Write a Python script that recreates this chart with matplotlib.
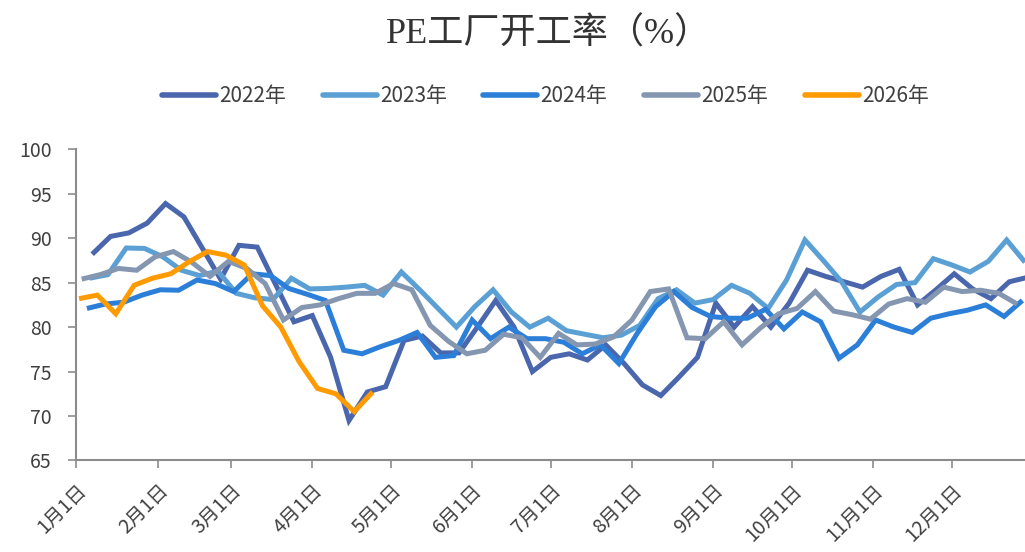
import numpy as np
import pandas as pd
import matplotlib
matplotlib.use("Agg")
import matplotlib.pyplot as plt

plt.rcParams['font.family'] = ['Noto Sans CJK SC', 'DejaVu Sans']

# PE工厂开工率, 周度数据(%)
v2022 = [88.2, 90.2, 90.6, 91.7, 93.9, 92.4, 88.9, 85.4, 89.2, 89.0,
         84.8, 80.6, 81.3, 76.6, 69.5, 72.7, 73.3, 78.5, 79.0, 77.1,
         77.1, 80.0, 83.0, 80.0, 75.0, 76.6, 77.0, 76.3, 78.0, 75.9,
         73.5, 72.3, 74.4, 76.6, 82.7, 80.0, 82.3, 80.0, 82.7, 86.4,
         85.7, 85.1, 84.5, 85.7, 86.5, 82.5, 84.2, 86.0, 84.3, 83.2,
         85.1, 85.6]
v2023 = [85.5, 85.9, 88.9, 88.85, 87.9, 86.4, 85.8, 86.3, 83.8, 83.3,
         83.1, 85.5, 84.3, 84.35, 84.5, 84.7, 83.6, 86.2, 84.2, 82.1,
         80.0, 82.3, 84.2, 81.7, 80.0, 81.0, 79.6, 79.2, 78.8, 79.1,
         80.2, 83.2, 84.2, 82.7, 83.1, 84.7, 83.8, 82.1, 85.3, 89.8,
         87.5, 85.1, 81.7, 83.4, 84.8, 85.0, 87.7, 87.0, 86.2, 87.4,
         89.8, 87.3]
v2024 = [82.1, 82.6, 82.8, 83.6, 84.2, 84.15, 85.3, 84.9, 84.0, 86.0,
         85.8, 84.35, 83.7, 83.0, 77.4, 77.0, 77.8, 78.5, 79.4, 76.6,
         76.8, 80.8, 78.7, 80.0, 78.7, 78.7, 78.3, 77.0, 78.0, 75.9,
         79.3, 82.3, 84.0, 82.2, 81.2, 81.0, 81.0, 82.0, 79.8, 81.7,
         80.6, 76.5, 78.0, 80.8, 80.0, 79.4, 81.0, 81.5, 81.9, 82.5,
         81.2, 83.0]
v2025 = [85.4, 85.9, 86.6, 86.4, 87.9, 88.5, 87.3, 85.7, 87.4, 86.6,
         84.9, 80.8, 82.2, 82.5, 83.2, 83.8, 83.8, 84.9, 84.2, 80.2,
         78.4, 77.0, 77.4, 79.2, 78.8, 76.6, 79.3, 78.0, 78.1, 78.9,
         80.8, 84.0, 84.3, 78.8, 78.7, 80.6, 78.0, 79.9, 81.5, 82.1,
         84.0, 81.8, 81.4, 80.9, 82.6, 83.2, 82.8, 84.5, 84.0, 84.15,
         83.8, 82.6]
v2026 = [83.2, 83.6, 81.5, 84.7, 85.5, 86.0, 87.35, 88.5, 88.1, 87.0,
         82.4, 80.0, 76.1, 73.1, 72.5, 70.5, 72.7]

series = [
    ("2022年", "2022-01-07", v2022, "#4a66ac"),
    ("2023年", "2023-01-06", v2023, "#5ba0d5"),
    ("2024年", "2024-01-05", v2024, "#2b7fd8"),
    ("2025年", "2025-01-03", v2025, "#8496b0"),
    ("2026年", "2026-01-02", v2026, "#ff9a00"),
]

month_days = [0, 31, 59, 90, 120, 151, 181, 212, 243, 273, 304, 334]
month_labels = [f"{m}月1日" for m in range(1, 13)]

fig = plt.figure(figsize=(10.25, 5.52), dpi=100)
ax = fig.add_axes([0.0746, 0.1658, 0.9254, 0.5637])

for name, start, vals, col in series:
    d = pd.date_range(start, periods=len(vals), freq="7D")
    x = d.dayofyear.values - 1
    ax.plot(x, vals, color=col, lw=3.6, label=name, solid_joinstyle="miter",
            solid_capstyle="butt")

ax.set_xlim(0, 362)
ax.set_ylim(65, 100)
ax.set_yticks(np.arange(65, 101, 5))
ax.set_xticks(month_days)
ax.set_xticklabels(month_labels, rotation=45, ha="right", va="top",
                   rotation_mode="anchor")

for s in ["top", "right"]:
    ax.spines[s].set_visible(False)
for s in ["left", "bottom"]:
    ax.spines[s].set_color("#8c8c8c")
    ax.spines[s].set_linewidth(1.5)
ax.tick_params(axis="both", colors="#8c8c8c", length=6, width=1.2,
               labelsize=14, labelcolor="#404040")
ax.tick_params(axis="x", pad=8)
ax.tick_params(axis="y", pad=12)

fig.text(0.535, 0.938, "PE工厂开工率（%）", ha="center", va="center",
         fontsize=26, color="#333333",
         family=["Liberation Serif", "Noto Sans CJK SC"])

leg = fig.legend(loc="center", bbox_to_anchor=(0.532, 0.826), ncol=5,
                 frameon=False, fontsize=15, handlelength=2.6,
                 columnspacing=1.75, handletextpad=0.15)
for t in leg.get_texts():
    t.set_color("#404040")
for h in leg.get_lines():
    h.set_solid_capstyle("round")
    h.set_linewidth(4)

fig.savefig("out.png", dpi=100)
